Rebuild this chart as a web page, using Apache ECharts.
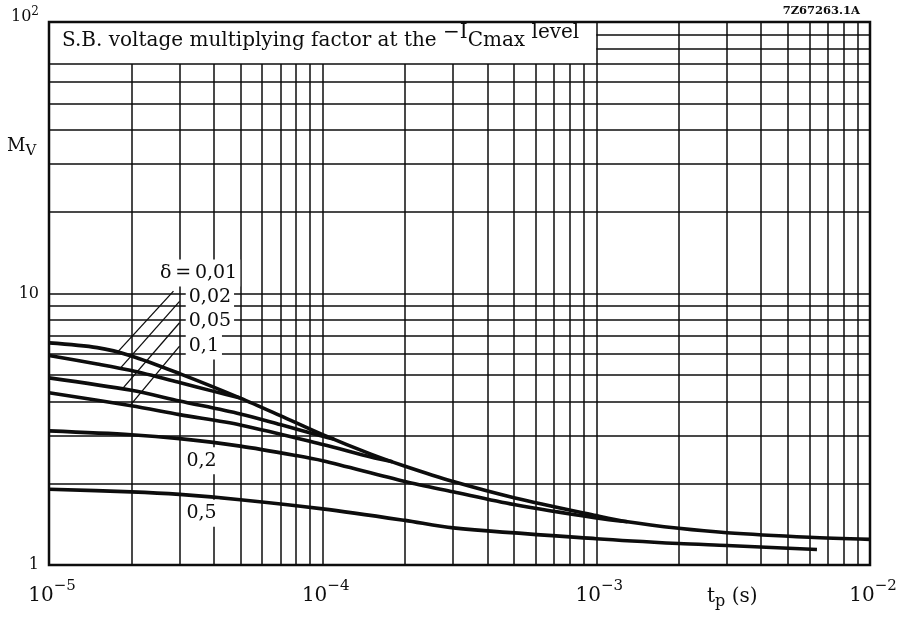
<!DOCTYPE html>
<html>
<head>
<meta charset="utf-8">
<script src="https://cdn.jsdelivr.net/npm/echarts@6/dist/echarts.min.js"></script>
<style>
  html, body { margin: 0; padding: 0; background: #fff; }
  #chart { width: 901px; height: 617px; }
</style>
</head>
<body>
<div id="chart"></div>
<script>
// pulse duration t_p (s) and voltage multiplying factor M_V, per duty factor delta
const tp001 = [1e-5, 1.5e-5, 2e-5, 3e-5, 5e-5, 7e-5, 1e-4, 1.5e-4, 2e-4, 3e-4, 5e-4, 1e-3, 1.3e-3, 2e-3, 3e-3, 6e-3, 1e-2];
const mv001 = [6.58, 6.32, 5.89, 5.07, 4.12, 3.55, 3.02, 2.56, 2.31, 2.03, 1.77, 1.52, 1.443, 1.365, 1.315, 1.266, 1.243];
const tp002 = [1e-5, 1.5e-5, 2e-5, 3e-5, 4e-5, 5e-5];
const mv002 = [5.91, 5.5, 5.2, 4.7, 4.36, 4.12];
const tp005 = [1e-5, 2e-5, 3e-5, 5e-5, 7e-5, 1e-4, 1.1e-4];
const mv005 = [4.89, 4.4, 4.02, 3.6, 3.29, 2.98, 2.91];
const tp01 = [1e-5, 2e-5, 3e-5, 5e-5, 1e-4, 1.5e-4, 1.8e-4];
const mv01 = [4.31, 3.86, 3.58, 3.28, 2.78, 2.5, 2.4];
const tp02 = [1e-5, 2e-5, 3e-5, 5e-5, 8e-5, 1e-4, 2e-4, 3e-4, 5e-4, 1e-3, 1.3e-3];
const mv02 = [3.12, 3.02, 2.92, 2.74, 2.53, 2.42, 2.03, 1.86, 1.67, 1.49, 1.443];
const tp05 = [1e-5, 2e-5, 3e-5, 5e-5, 1e-4, 2e-4, 3e-4, 1e-3, 2e-3, 3e-3, 6.4e-3];
const mv05 = [1.9, 1.86, 1.82, 1.74, 1.61, 1.46, 1.37, 1.25, 1.2, 1.18, 1.14];

// tick labels
const xTickVals = [1e-5, 1e-4, 1e-3, 1e-2];
const xTickExp = ['\u22125', '\u22124', '\u22123', '\u22122'];
const yTickVals = [1, 10, 100];
const yTickBase = ['1', '10', '10'];
const yTickExp = ['', '', '2'];

// leader lines from the delta labels to their curves [t_p, M_V]
const leaderFrom = [[2.85e-5, 10.2], [3e-5, 9.35], [3e-5, 7.8], [3e-5, 6.4]];
const leaderTo = [[1.78e-5, 6.08], [1.82e-5, 5.3], [1.86e-5, 4.47], [1.98e-5, 3.87]];

// curve labels, anchored at their left edge [t_p, M_V]
const labelText = ['\u03b4\u2009=\u20090,01', '0,02', '0,05', '0,1', '0,2', '0,5'];
const labelPos = [[2.48e-5, 11.9], [3.16e-5, 9.67], [3.16e-5, 7.9], [3.16e-5, 6.4], [3.1e-5, 2.42], [3.1e-5, 1.55]];

const serif = 'DejaVu Serif';
const ink = '#0d0d0d';

// grid lines; the caption panel hides the minor lines above M_V = 70 left of 1e-3
const mantissa = [1, 2, 3, 4, 5, 6, 7, 8, 9];
const panelBottom = 70;
const gridSegs = [];
[1e-5, 1e-4, 1e-3].forEach(d => {
  mantissa.forEach(m => {
    const x = m * d;
    if (x <= 1e-5 * 1.0001) return;
    const top = x < 0.99e-3 ? panelBottom : 100;
    gridSegs.push([{ coord: [x, 1] }, { coord: [x, top] }]);
  });
});
[1, 10].forEach(d => {
  mantissa.forEach(m => {
    const y = m * d;
    if (y <= 1.0001) return;
    const left = y > panelBottom + 1 ? 1e-3 : 1e-5;
    gridSegs.push([{ coord: [left, y] }, { coord: [1e-2, y] }]);
  });
});

function zip(a, b) { return a.map((v, i) => [v, b[i]]); }
function tickIndex(vals, v) {
  let best = 0;
  vals.forEach((t, i) => {
    if (Math.abs(Math.log10(t) - Math.log10(v)) < Math.abs(Math.log10(vals[best]) - Math.log10(v))) best = i;
  });
  return best;
}

const curve = (name, tp, mv) => ({
  name: name,
  type: 'line',
  data: zip(tp, mv),
  showSymbol: false,
  symbol: 'none',
  smooth: 0.3,
  z: 5,
  lineStyle: { color: ink, width: 3.6, cap: 'butt' },
  silent: true
});

const chart = echarts.init(document.getElementById('chart'));

const option = {
  animation: false,
  backgroundColor: '#fff',
  grid: {
    left: 49, right: 31, top: 22, bottom: 52,
    show: true, borderColor: ink, borderWidth: 2.5,
    outerBoundsMode: 'none'
  },
  xAxis: {
    type: 'log', logBase: 10, min: 1e-5, max: 1e-2,
    axisLine: { show: false }, axisTick: { show: false }, splitLine: { show: false },
    axisLabel: {
      margin: 14,
      padding: [0, 0, 0, 6],
      formatter: v => {
        const i = tickIndex(xTickVals, v);
        return '{b|10}{s|' + xTickExp[i] + '}';
      },
      rich: {
        b: { fontFamily: serif, fontSize: 20, color: ink },
        s: { fontFamily: serif, fontSize: 15, color: ink, padding: [0, 0, 18, 0] }
      }
    }
  },
  yAxis: {
    type: 'log', logBase: 10, min: 1, max: 100,
    axisLine: { show: false }, axisTick: { show: false }, splitLine: { show: false },
    axisLabel: {
      margin: 10,
      formatter: v => {
        const i = tickIndex(yTickVals, v);
        if (yTickExp[i]) return '{c|' + yTickBase[i] + '}{d|' + yTickExp[i] + '}';
        return '{b|' + yTickBase[i] + '}';
      },
      rich: {
        b: { fontFamily: serif, fontSize: 16, color: ink },
        c: { fontFamily: serif, fontSize: 16, color: ink, padding: [0, 0, 10, 0] },
        d: { fontFamily: serif, fontSize: 12, color: ink, padding: [0, 0, 20, 0] }
      }
    }
  },
  series: [
    {
      name: 'grid',
      type: 'line',
      data: [],
      z: 1,
      silent: true,
      markLine: {
        silent: true,
        symbol: ['none', 'none'],
        label: { show: false },
        lineStyle: { color: ink, width: 1.5, type: 'solid' },
        emphasis: { disabled: true },
        data: gridSegs
      }
    },
    curve('0,01', tp001, mv001),
    curve('0,02', tp002, mv002),
    curve('0,05', tp005, mv005),
    curve('0,1', tp01, mv01),
    curve('0,2', tp02, mv02),
    curve('0,5', tp05, mv05)
  ].concat(leaderFrom.map((p, i) => ({
    type: 'line',
    data: [p, leaderTo[i]],
    symbol: 'none',
    z: 4,
    silent: true,
    lineStyle: { color: ink, width: 1.3 }
  })))
};
chart.setOption(option);

// texts: caption, axis names, drawing code and the delta labels
const graphics = [
  {
    type: 'text', x: 62, y: 41, z: 100,
    style: {
      text: '{m|S.B. voltage multiplying factor at the }{r|\u2212I}{m|Cmax}{r| level}',
      verticalAlign: 'middle', align: 'left',
      rich: {
        m: { fontFamily: serif, fontSize: 20, fill: ink },
        r: { fontFamily: serif, fontSize: 20, fill: ink, padding: [0, 0, 16, 0] }
      }
    }
  },
  {
    type: 'text', x: 860, y: 11, z: 100,
    style: { text: '7Z67263.1A', font: 'bold 11.5px ' + serif, fill: ink, align: 'right', verticalAlign: 'middle' }
  },
  {
    type: 'text', x: 7, y: 146, z: 100,
    style: {
      text: '{a|M}{b|V}', verticalAlign: 'middle', align: 'left',
      rich: {
        a: { fontFamily: serif, fontSize: 18, fill: ink },
        b: { fontFamily: serif, fontSize: 15, fill: ink, padding: [10, 0, 0, 0] }
      }
    }
  },
  {
    type: 'text', x: 707, y: 597, z: 100,
    style: {
      text: '{a|t}{b|p}{a| (s)}', verticalAlign: 'middle', align: 'left',
      rich: {
        a: { fontFamily: serif, fontSize: 20, fill: ink },
        b: { fontFamily: serif, fontSize: 16, fill: ink, padding: [10, 0, 0, 0] }
      }
    }
  }
];
labelText.forEach((t, i) => {
  const p = chart.convertToPixel({ gridIndex: 0 }, labelPos[i]);
  graphics.push({
    type: 'text', x: p[0], y: p[1], z: 100,
    style: {
      text: t, font: '19px ' + serif, fill: ink,
      align: 'left', verticalAlign: 'middle',
      backgroundColor: '#fff', padding: [4, 3, 4, 3]
    }
  });
});
chart.setOption({ graphic: graphics });
</script>
</body>
</html>
